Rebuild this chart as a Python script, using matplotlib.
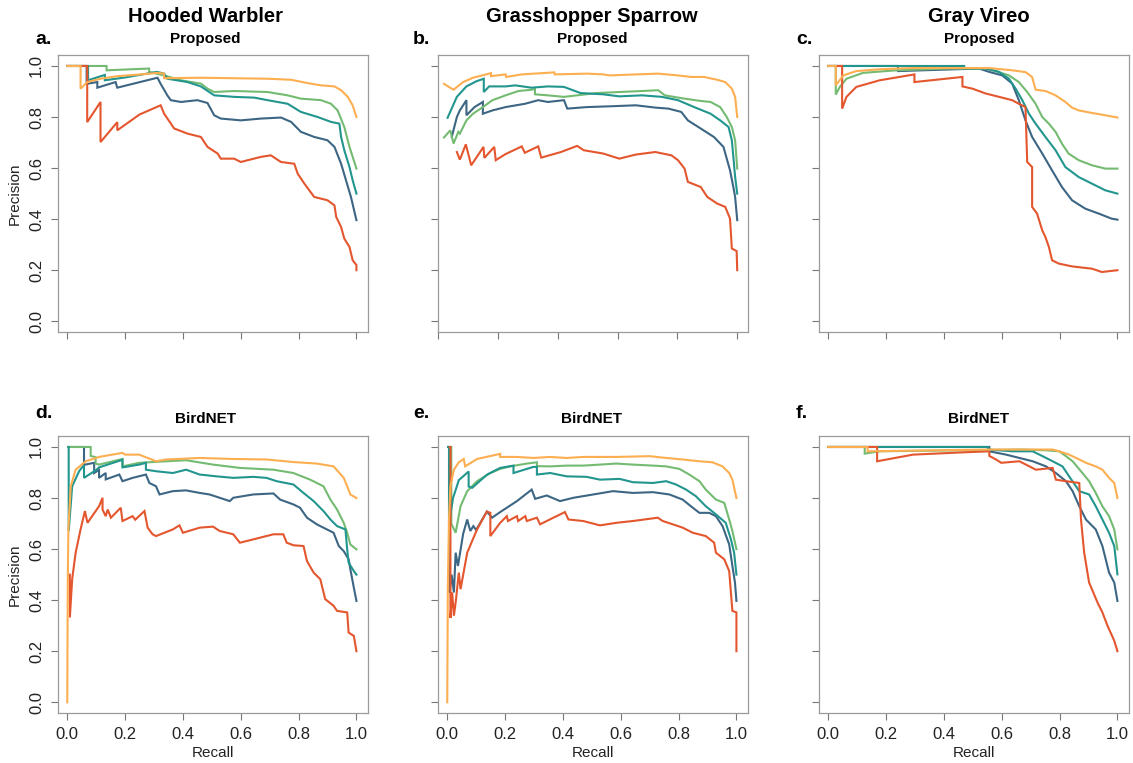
#!/usr/bin/env python3
"""Precision-recall curves, Proposed vs BirdNET, for three species."""

import matplotlib
matplotlib.use('Agg')
import matplotlib.pyplot as plt

plt.rcParams['font.family'] = ['Liberation Sans', 'DejaVu Sans']

W, H = 1133, 763

species = ['Hooded Warbler', 'Grasshopper Sparrow', 'Gray Vireo']
models = ['Proposed', 'BirdNET']
letters = ['a.', 'b.', 'c.', 'd.', 'e.', 'f.']
# curves are named by the precision they reach at full recall
levels = ['40', '60', '50', '20', '80']   # drawing order
colors = {'80': '#FDAE51', '60': '#74BB72', '50': '#22968E', '40': '#3C6683', '20': '#E4562E'}
ticks = [0.0, 0.2, 0.4, 0.6, 0.8, 1.0]
tick_labels = ['0.0', '0.2', '0.4', '0.6', '0.8', '1.0']

# ---- Hooded Warbler, Proposed (a) ----
hw_prop_80_r = [0, 0.046, 0.046, 0.069, 0.115, 0.173, 0.254, 0.312, 0.335, 0.335, 0.462, 0.577, 0.693, 0.774, 0.831, 0.878, 0.924, 0.947, 0.970, 0.987, 1.0]
hw_prop_80_p = [1.0, 1.0, 0.911, 0.937, 0.950, 0.960, 0.967, 0.973, 0.970, 0.952, 0.954, 0.952, 0.950, 0.946, 0.933, 0.924, 0.920, 0.905, 0.879, 0.846, 0.80]
hw_prop_60_r = [0, 0.136, 0.136, 0.283, 0.283, 0.335, 0.393, 0.462, 0.485, 0.508, 0.577, 0.693, 0.762, 0.808, 0.878, 0.912, 0.935, 0.958, 0.976, 0.987, 1.0]
hw_prop_60_p = [1.0, 1.0, 0.983, 0.99, 0.977, 0.963, 0.944, 0.931, 0.911, 0.898, 0.902, 0.898, 0.885, 0.872, 0.866, 0.852, 0.826, 0.761, 0.683, 0.644, 0.598]
hw_prop_50_r = [0, 0.072, 0.072, 0.13, 0.13, 0.2, 0.31, 0.335, 0.346, 0.416, 0.462, 0.508, 0.577, 0.647, 0.693, 0.762, 0.808, 0.866, 0.912, 0.941, 0.947, 0.958, 0.976, 0.987, 1.0]
hw_prop_50_p = [1.0, 1.0, 0.944, 0.965, 0.944, 0.955, 0.977, 0.97, 0.95, 0.937, 0.92, 0.885, 0.879, 0.876, 0.866, 0.852, 0.82, 0.80, 0.781, 0.774, 0.722, 0.67, 0.604, 0.552, 0.50]
hw_prop_40_r = [0, 0.067, 0.067, 0.104, 0.104, 0.167, 0.173, 0.312, 0.323, 0.346, 0.358, 0.393, 0.45, 0.485, 0.508, 0.531, 0.60, 0.67, 0.739, 0.774, 0.808, 0.854, 0.90, 0.924, 0.947, 0.964, 0.981, 1.0]
hw_prop_40_p = [1.0, 1.0, 0.93, 0.937, 0.915, 0.937, 0.915, 0.954, 0.93, 0.885, 0.866, 0.859, 0.866, 0.855, 0.807, 0.794, 0.787, 0.794, 0.798, 0.781, 0.742, 0.722, 0.709, 0.683, 0.617, 0.552, 0.487, 0.396]
hw_prop_20_r = [0, 0.069, 0.069, 0.115, 0.115, 0.173, 0.173, 0.25, 0.323, 0.335, 0.37, 0.416, 0.462, 0.485, 0.52, 0.531, 0.577, 0.60, 0.67, 0.704, 0.739, 0.785, 0.797, 0.82, 0.854, 0.90, 0.924, 0.93, 0.947, 0.958, 0.976, 0.987, 1.0, 1.0]
hw_prop_20_p = [1.0, 1.0, 0.78, 0.859, 0.702, 0.78, 0.748, 0.81, 0.846, 0.813, 0.755, 0.735, 0.722, 0.683, 0.657, 0.637, 0.637, 0.624, 0.644, 0.65, 0.624, 0.617, 0.578, 0.539, 0.487, 0.474, 0.454, 0.409, 0.369, 0.324, 0.291, 0.239, 0.22, 0.20]

# ---- Grasshopper Sparrow, Proposed (b) ----
gs_prop_80_r = [0.02, 0.028, 0.052, 0.084, 0.117, 0.171, 0.177, 0.177, 0.226, 0.228, 0.28, 0.389, 0.39, 0.498, 0.552, 0.574, 0.661, 0.736, 0.802, 0.846, 0.889, 0.933, 0.96, 0.982, 0.993, 1.0]
gs_prop_80_p = [0.93, 0.924, 0.907, 0.937, 0.954, 0.97, 0.972, 0.96, 0.967, 0.957, 0.967, 0.975, 0.967, 0.97, 0.967, 0.963, 0.967, 0.97, 0.963, 0.957, 0.957, 0.946, 0.937, 0.911, 0.879, 0.80]
gs_prop_60_r = [0.02, 0.041, 0.052, 0.068, 0.073, 0.095, 0.117, 0.150, 0.182, 0.226, 0.269, 0.313, 0.324, 0.324, 0.367, 0.421, 0.465, 0.530, 0.606, 0.682, 0.736, 0.758, 0.824, 0.878, 0.911, 0.943, 0.965, 0.982, 0.993, 1.0]
gs_prop_60_p = [0.72, 0.748, 0.696, 0.742, 0.735, 0.787, 0.813, 0.839, 0.866, 0.885, 0.902, 0.907, 0.91, 0.889, 0.885, 0.879, 0.885, 0.894, 0.898, 0.902, 0.905, 0.885, 0.872, 0.863, 0.859, 0.839, 0.80, 0.761, 0.709, 0.598]
gs_prop_50_r = [0.032, 0.063, 0.095, 0.128, 0.153, 0.153, 0.171, 0.226, 0.258, 0.313, 0.367, 0.421, 0.476, 0.552, 0.606, 0.682, 0.748, 0.802, 0.856, 0.911, 0.943, 0.971, 0.982, 0.987, 0.993, 1.0]
gs_prop_50_p = [0.797, 0.879, 0.92, 0.94, 0.95, 0.898, 0.92, 0.92, 0.924, 0.915, 0.92, 0.918, 0.894, 0.889, 0.881, 0.885, 0.879, 0.866, 0.839, 0.813, 0.787, 0.761, 0.709, 0.644, 0.565, 0.50]
gs_prop_40_r = [0.046, 0.063, 0.073, 0.095, 0.095, 0.122, 0.150, 0.150, 0.182, 0.226, 0.291, 0.335, 0.367, 0.421, 0.432, 0.498, 0.574, 0.661, 0.726, 0.77, 0.813, 0.835, 0.878, 0.922, 0.954, 0.976, 0.987, 0.993, 1.0]
gs_prop_40_p = [0.722, 0.80, 0.826, 0.866, 0.807, 0.839, 0.859, 0.813, 0.826, 0.839, 0.852, 0.866, 0.859, 0.866, 0.833, 0.839, 0.842, 0.846, 0.837, 0.833, 0.82, 0.787, 0.755, 0.722, 0.683, 0.591, 0.526, 0.487, 0.396]
gs_prop_20_r = [0.063, 0.073, 0.093, 0.111, 0.152, 0.155, 0.188, 0.193, 0.226, 0.28, 0.29, 0.335, 0.345, 0.411, 0.465, 0.487, 0.552, 0.606, 0.661, 0.726, 0.780, 0.802, 0.824, 0.835, 0.878, 0.9, 0.933, 0.96, 0.976, 0.982, 0.998, 1.0]
gs_prop_20_p = [0.663, 0.633, 0.693, 0.611, 0.683, 0.64, 0.683, 0.631, 0.655, 0.685, 0.66, 0.685, 0.641, 0.663, 0.687, 0.67, 0.657, 0.637, 0.653, 0.663, 0.65, 0.631, 0.598, 0.546, 0.526, 0.487, 0.461, 0.448, 0.402, 0.285, 0.275, 0.20]

# ---- Gray Vireo, Proposed (c) ----
gv_prop_80_r = [0, 0.026, 0.026, 0.052, 0.097, 0.178, 0.292, 0.556, 0.636, 0.682, 0.705, 0.717, 0.751, 0.786, 0.82, 0.843, 0.866, 0.912, 0.958, 1.0]
gv_prop_80_p = [1.0, 1.0, 0.924, 0.963, 0.98, 0.987, 0.992, 0.992, 0.983, 0.976, 0.957, 0.907, 0.902, 0.885, 0.859, 0.837, 0.826, 0.816, 0.807, 0.798]
gv_prop_60_r = [0, 0.026, 0.026, 0.04, 0.063, 0.12, 0.235, 0.407, 0.545, 0.579, 0.625, 0.659, 0.688, 0.717, 0.74, 0.763, 0.786, 0.808, 0.831, 0.866, 0.912, 0.958, 1.0]
gv_prop_60_p = [1.0, 1.0, 0.888, 0.918, 0.95, 0.973, 0.983, 0.99, 0.99, 0.98, 0.963, 0.937, 0.898, 0.852, 0.80, 0.774, 0.742, 0.696, 0.657, 0.631, 0.611, 0.598, 0.598]
gv_prop_50_r = [0, 0.47, 0.47, 0.545, 0.59, 0.625, 0.648, 0.671, 0.694, 0.717, 0.751, 0.786, 0.82, 0.866, 0.912, 0.958, 1.0]
gv_prop_50_p = [1.0, 1.0, 0.99, 0.99, 0.977, 0.95, 0.911, 0.866, 0.813, 0.774, 0.722, 0.67, 0.604, 0.565, 0.539, 0.513, 0.50]
gv_prop_40_r = [0, 0.241, 0.241, 0.522, 0.556, 0.602, 0.636, 0.659, 0.682, 0.705, 0.74, 0.774, 0.808, 0.843, 0.889, 0.935, 0.98, 1.0]
gv_prop_40_p = [1.0, 1.0, 0.98, 0.99, 0.977, 0.963, 0.931, 0.866, 0.787, 0.722, 0.657, 0.591, 0.526, 0.474, 0.441, 0.422, 0.402, 0.398]
gv_prop_20_r = [0, 0.048, 0.048, 0.063, 0.097, 0.178, 0.298, 0.298, 0.464, 0.464, 0.499, 0.545, 0.591, 0.636, 0.659, 0.682, 0.688, 0.705, 0.705, 0.722, 0.74, 0.751, 0.763, 0.774, 0.797, 0.843, 0.912, 0.946, 1.0]
gv_prop_20_p = [1.0, 1.0, 0.833, 0.879, 0.918, 0.944, 0.967, 0.937, 0.957, 0.92, 0.911, 0.892, 0.879, 0.866, 0.852, 0.839, 0.624, 0.604, 0.448, 0.422, 0.356, 0.33, 0.291, 0.239, 0.226, 0.215, 0.206, 0.193, 0.20]

# ---- Hooded Warbler, BirdNET (d) ----
hw_bird_80_r = [0.0, 0.002, 0.004, 0.012, 0.029, 0.064, 0.11, 0.191, 0.2, 0.249, 0.307, 0.342, 0.458, 0.574, 0.689, 0.782, 0.863, 0.921, 0.956, 0.968, 0.979, 1.0]
hw_bird_80_p = [0.0, 0.5, 0.68, 0.846, 0.911, 0.944, 0.961, 0.977, 0.97, 0.97, 0.944, 0.951, 0.957, 0.953, 0.951, 0.941, 0.935, 0.924, 0.879, 0.846, 0.814, 0.80]
hw_bird_60_r = [0.003, 0.081, 0.081, 0.098, 0.098, 0.11, 0.191, 0.191, 0.249, 0.342, 0.411, 0.504, 0.597, 0.713, 0.782, 0.84, 0.886, 0.91, 0.933, 0.956, 0.968, 0.979, 1.0]
hw_bird_60_p = [1.0, 1.0, 0.965, 0.96, 0.935, 0.931, 0.953, 0.924, 0.938, 0.944, 0.948, 0.931, 0.918, 0.911, 0.898, 0.872, 0.846, 0.794, 0.755, 0.703, 0.664, 0.618, 0.599]
hw_bird_50_r = [0.005, 0.005, 0.017, 0.041, 0.058, 0.058, 0.1, 0.11, 0.191, 0.191, 0.249, 0.272, 0.272, 0.307, 0.365, 0.411, 0.458, 0.516, 0.574, 0.643, 0.689, 0.724, 0.782, 0.817, 0.852, 0.886, 0.91, 0.933, 0.962, 0.968, 0.973, 0.991, 1.0]
hw_bird_50_p = [1.0, 0.67, 0.846, 0.905, 0.93, 0.879, 0.91, 0.92, 0.95, 0.92, 0.931, 0.938, 0.911, 0.905, 0.898, 0.911, 0.892, 0.885, 0.879, 0.883, 0.879, 0.866, 0.853, 0.82, 0.788, 0.749, 0.716, 0.69, 0.677, 0.599, 0.547, 0.514, 0.50]
hw_bird_40_r = [0.003, 0.058, 0.058, 0.093, 0.093, 0.11, 0.11, 0.133, 0.133, 0.18, 0.191, 0.226, 0.272, 0.284, 0.307, 0.319, 0.365, 0.411, 0.458, 0.492, 0.562, 0.574, 0.643, 0.713, 0.736, 0.782, 0.805, 0.829, 0.863, 0.898, 0.921, 0.939, 0.956, 0.973, 0.979, 0.991, 1.0]
hw_bird_40_p = [1.0, 1.0, 0.93, 0.938, 0.898, 0.91, 0.879, 0.898, 0.873, 0.892, 0.866, 0.879, 0.892, 0.859, 0.846, 0.814, 0.827, 0.83, 0.82, 0.814, 0.788, 0.801, 0.814, 0.818, 0.794, 0.775, 0.762, 0.723, 0.697, 0.677, 0.664, 0.612, 0.592, 0.56, 0.521, 0.449, 0.397]
hw_bird_20_r = [0.009, 0.009, 0.017, 0.029, 0.046, 0.061, 0.07, 0.11, 0.122, 0.122, 0.133, 0.14, 0.151, 0.185, 0.191, 0.226, 0.235, 0.267, 0.278, 0.295, 0.307, 0.365, 0.388, 0.4, 0.458, 0.504, 0.527, 0.574, 0.597, 0.643, 0.713, 0.747, 0.759, 0.782, 0.817, 0.829, 0.852, 0.875, 0.892, 0.921, 0.933, 0.968, 0.973, 0.991, 1.0]
hw_bird_20_p = [0.50, 0.332, 0.482, 0.586, 0.677, 0.749, 0.703, 0.768, 0.801, 0.755, 0.729, 0.755, 0.723, 0.762, 0.71, 0.729, 0.715, 0.749, 0.684, 0.658, 0.651, 0.677, 0.693, 0.664, 0.684, 0.688, 0.671, 0.658, 0.625, 0.638, 0.658, 0.658, 0.625, 0.615, 0.612, 0.553, 0.508, 0.482, 0.404, 0.378, 0.358, 0.352, 0.273, 0.26, 0.20]

# ---- Grasshopper Sparrow, BirdNET (e) ----
gs_bird_80_r = [0.0, 0.002, 0.006, 0.011, 0.023, 0.04, 0.057, 0.062, 0.103, 0.183, 0.183, 0.241, 0.298, 0.356, 0.413, 0.47, 0.585, 0.7, 0.757, 0.814, 0.872, 0.917, 0.952, 0.975, 0.986, 1.0]
gs_bird_80_p = [0.0, 0.45, 0.716, 0.846, 0.911, 0.94, 0.953, 0.924, 0.953, 0.973, 0.961, 0.961, 0.957, 0.961, 0.957, 0.961, 0.961, 0.964, 0.957, 0.951, 0.944, 0.94, 0.924, 0.898, 0.872, 0.80]
gs_bird_60_r = [0.003, 0.014, 0.014, 0.029, 0.046, 0.069, 0.103, 0.149, 0.183, 0.218, 0.275, 0.31, 0.31, 0.356, 0.413, 0.47, 0.528, 0.585, 0.642, 0.711, 0.757, 0.803, 0.837, 0.872, 0.894, 0.929, 0.958, 0.975, 0.986, 1.0]
gs_bird_60_p = [1.0, 1.0, 0.70, 0.664, 0.768, 0.827, 0.866, 0.898, 0.914, 0.924, 0.935, 0.94, 0.925, 0.924, 0.927, 0.927, 0.931, 0.935, 0.931, 0.927, 0.924, 0.914, 0.892, 0.866, 0.833, 0.794, 0.781, 0.716, 0.671, 0.60]
gs_bird_50_r = [0.003, 0.006, 0.006, 0.02, 0.04, 0.074, 0.074, 0.086, 0.138, 0.183, 0.229, 0.229, 0.298, 0.31, 0.31, 0.356, 0.413, 0.482, 0.528, 0.596, 0.642, 0.711, 0.757, 0.791, 0.826, 0.86, 0.894, 0.929, 0.963, 0.981, 0.992, 1.0]
gs_bird_50_p = [1.0, 1.0, 0.698, 0.80, 0.87, 0.904, 0.845, 0.84, 0.892, 0.918, 0.927, 0.898, 0.922, 0.922, 0.892, 0.898, 0.885, 0.883, 0.872, 0.875, 0.862, 0.859, 0.866, 0.853, 0.833, 0.807, 0.768, 0.736, 0.703, 0.638, 0.586, 0.50]
gs_bird_40_r = [0.003, 0.008, 0.008, 0.015, 0.023, 0.029, 0.037, 0.055, 0.069, 0.075, 0.08, 0.09, 0.1, 0.137, 0.155, 0.183, 0.241, 0.292, 0.304, 0.344, 0.39, 0.436, 0.505, 0.573, 0.642, 0.711, 0.768, 0.814, 0.849, 0.872, 0.906, 0.929, 0.952, 0.975, 0.986, 0.995, 1.0]
gs_bird_40_p = [1.0, 1.0, 0.43, 0.50, 0.43, 0.586, 0.534, 0.66, 0.716, 0.69, 0.671, 0.69, 0.675, 0.747, 0.723, 0.745, 0.788, 0.833, 0.797, 0.81, 0.788, 0.801, 0.814, 0.827, 0.82, 0.823, 0.814, 0.794, 0.762, 0.742, 0.742, 0.729, 0.69, 0.618, 0.534, 0.469, 0.397]
gs_bird_20_r = [0.008, 0.011, 0.011, 0.017, 0.023, 0.03, 0.04, 0.046, 0.069, 0.103, 0.137, 0.149, 0.149, 0.183, 0.206, 0.21, 0.241, 0.245, 0.27, 0.275, 0.31, 0.321, 0.367, 0.407, 0.419, 0.47, 0.528, 0.585, 0.642, 0.728, 0.745, 0.78, 0.814, 0.849, 0.894, 0.923, 0.929, 0.958, 0.975, 0.986, 1.0, 1.0]
gs_bird_20_p = [1.0, 1.0, 0.33, 0.43, 0.339, 0.40, 0.508, 0.443, 0.586, 0.677, 0.747, 0.742, 0.651, 0.703, 0.729, 0.71, 0.729, 0.71, 0.729, 0.71, 0.723, 0.697, 0.723, 0.745, 0.716, 0.71, 0.693, 0.703, 0.71, 0.723, 0.71, 0.697, 0.684, 0.664, 0.651, 0.625, 0.586, 0.56, 0.514, 0.358, 0.352, 0.20]

# ---- Gray Vireo, BirdNET (f) ----
gv_bird_80_r = [0.0, 0.136, 0.136, 0.557, 0.776, 0.799, 0.833, 0.868, 0.891, 0.925, 0.948, 0.971, 0.989, 1.0]
gv_bird_80_p = [1.0, 1.0, 0.983, 0.99, 0.99, 0.983, 0.97, 0.951, 0.938, 0.924, 0.911, 0.879, 0.859, 0.80]
gv_bird_60_r = [0.0, 0.126, 0.126, 0.178, 0.672, 0.753, 0.799, 0.822, 0.845, 0.879, 0.902, 0.925, 0.948, 0.971, 0.989, 1.0]
gv_bird_60_p = [1.0, 1.0, 0.974, 0.983, 0.99, 0.987, 0.983, 0.964, 0.944, 0.898, 0.866, 0.82, 0.768, 0.729, 0.677, 0.599]
gv_bird_50_r = [0.0, 0.552, 0.552, 0.638, 0.707, 0.741, 0.776, 0.81, 0.833, 0.868, 0.902, 0.925, 0.948, 0.971, 0.989, 1.0]
gv_bird_50_p = [1.0, 1.0, 0.99, 0.983, 0.983, 0.964, 0.944, 0.924, 0.885, 0.827, 0.814, 0.768, 0.716, 0.664, 0.612, 0.501]
gv_bird_40_r = [0.0, 0.557, 0.557, 0.615, 0.661, 0.707, 0.753, 0.787, 0.822, 0.845, 0.868, 0.891, 0.925, 0.948, 0.971, 0.989, 1.0]
gv_bird_40_p = [1.0, 1.0, 0.983, 0.97, 0.957, 0.944, 0.924, 0.898, 0.866, 0.827, 0.768, 0.716, 0.677, 0.612, 0.508, 0.469, 0.397]
gv_bird_20_r = [0.0, 0.169, 0.169, 0.293, 0.466, 0.557, 0.557, 0.58, 0.598, 0.661, 0.718, 0.776, 0.787, 0.822, 0.868, 0.874, 0.885, 0.902, 0.931, 0.948, 0.966, 0.989, 1.0]
gv_bird_20_p = [1.0, 1.0, 0.944, 0.97, 0.979, 0.983, 0.965, 0.951, 0.938, 0.944, 0.911, 0.918, 0.872, 0.866, 0.859, 0.716, 0.586, 0.469, 0.391, 0.352, 0.299, 0.241, 0.20]

curves = [
    {'80': (hw_prop_80_r, hw_prop_80_p), '60': (hw_prop_60_r, hw_prop_60_p), '50': (hw_prop_50_r, hw_prop_50_p),
     '40': (hw_prop_40_r, hw_prop_40_p), '20': (hw_prop_20_r, hw_prop_20_p)},
    {'80': (gs_prop_80_r, gs_prop_80_p), '60': (gs_prop_60_r, gs_prop_60_p), '50': (gs_prop_50_r, gs_prop_50_p),
     '40': (gs_prop_40_r, gs_prop_40_p), '20': (gs_prop_20_r, gs_prop_20_p)},
    {'80': (gv_prop_80_r, gv_prop_80_p), '60': (gv_prop_60_r, gv_prop_60_p), '50': (gv_prop_50_r, gv_prop_50_p),
     '40': (gv_prop_40_r, gv_prop_40_p), '20': (gv_prop_20_r, gv_prop_20_p)},
    {'80': (hw_bird_80_r, hw_bird_80_p), '60': (hw_bird_60_r, hw_bird_60_p), '50': (hw_bird_50_r, hw_bird_50_p),
     '40': (hw_bird_40_r, hw_bird_40_p), '20': (hw_bird_20_r, hw_bird_20_p)},
    {'80': (gs_bird_80_r, gs_bird_80_p), '60': (gs_bird_60_r, gs_bird_60_p), '50': (gs_bird_50_r, gs_bird_50_p),
     '40': (gs_bird_40_r, gs_bird_40_p), '20': (gs_bird_20_r, gs_bird_20_p)},
    {'80': (gv_bird_80_r, gv_bird_80_p), '60': (gv_bird_60_r, gv_bird_60_p), '50': (gv_bird_50_r, gv_bird_50_p),
     '40': (gv_bird_40_r, gv_bird_40_p), '20': (gv_bird_20_r, gv_bird_20_p)},
]

# layout in pixels
col_left = [58, 438, 819]
row_top = [55, 436]
box_w, box_h = 310, 277
title_x = [205, 592, 979]
letter_x = [35, 413, 796]


def fx(x):
    return x / W


def fy(y):
    return 1 - y / H


fig = plt.figure(figsize=(W / 100, H / 100), dpi=100)

for i in range(6):
    row, col = divmod(i, 3)
    l, t = col_left[col], row_top[row]
    ax = fig.add_axes([fx(l), fy(t + box_h), box_w / W, box_h / H])
    for lev in levels:
        r, p = curves[i][lev]
        ax.plot(r, p, color=colors[lev], lw=1.5, solid_joinstyle='miter')

    # the Grasshopper Sparrow "Proposed" panel starts its x range above zero
    if i == 1:
        ax.set_xlim(0.025, 1.036)
    else:
        ax.set_xlim(-0.032, 1.04)
    ax.set_ylim(-0.042, 1.043)

    ax.set_xticks(ticks)
    ax.set_yticks(ticks)
    ax.set_xticklabels(tick_labels if row == 1 else [])
    ax.set_yticklabels(tick_labels if col == 0 else [])
    plt.setp(ax.get_yticklabels(), rotation=90, va='center')
    ax.tick_params(direction='out', length=5, width=0.8, color='#777777',
                   labelsize=12, labelcolor='#222222', pad=5)
    for s in ax.spines.values():
        s.set_color('#9a9a9a')
        s.set_linewidth(0.9)

    fig.text(fx(letter_x[col]), fy(40 if row == 0 else 414), letters[i],
             fontsize=14, fontweight='bold', ha='left', va='center')
    fig.text(fx(title_x[col]), fy(39 if row == 0 else 419), models[row],
             fontsize=11, fontweight='bold', ha='center', va='center')
    if row == 0:
        fig.text(fx(title_x[col]), fy(17), species[col],
                 fontsize=14.5, fontweight='bold', ha='center', va='center')
    else:
        fig.text(fx(l + box_w / 2), fy(753), 'Recall', fontsize=11,
                 ha='center', va='center', color='#222222')
    if col == 0:
        fig.text(fx(15), fy(t + box_h / 2), 'Precision', fontsize=11, rotation=90,
                 ha='center', va='center', color='#222222')

plt.savefig('out.png', dpi=100, facecolor='white')
plt.close()
